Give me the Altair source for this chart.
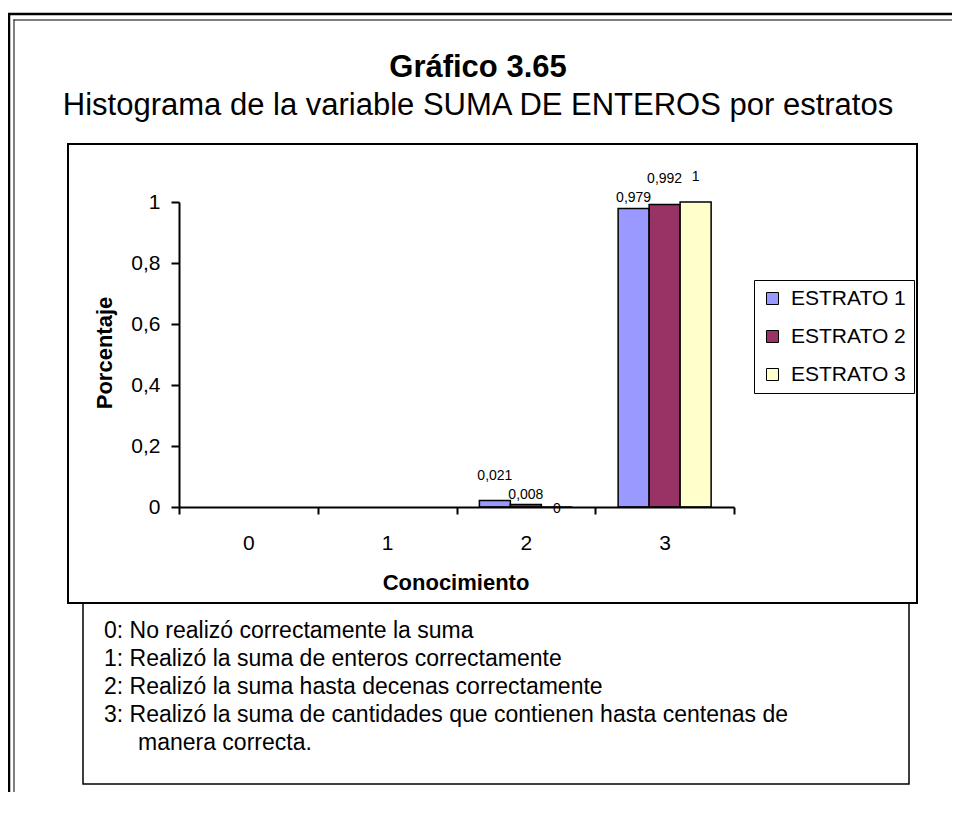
import altair as alt
import pandas as pd

# ---------------- data ----------------
categories = ["0", "1", "2", "3"]
strata = ["ESTRATO 1", "ESTRATO 2", "ESTRATO 3"]
bar_categories = ["2", "3"]
estrato_1 = [0.021, 0.979]
estrato_2 = [0.008, 0.992]
estrato_3 = [0.0, 1.0]
y_ticks = [0, 0.2, 0.4, 0.6, 0.8, 1]
colors = ["#9999FF", "#993366", "#FFFFCC"]

title_text = "Gráfico 3.65"
subtitle_text = "Histograma de la variable SUMA DE ENTEROS por estratos"
y_title = "Porcentaje"
x_title = "Conocimiento"
notes = [
    "0: No realizó correctamente la suma",
    "1: Realizó la suma de enteros correctamente",
    "2: Realizó la suma hasta decenas correctamente",
    "3: Realizó la suma de cantidades que contienen hasta centenas de",
]
notes_continuation = "manera correcta."

# label placement style (Excel staggered the value labels)
label_lift = {
    ("2", "ESTRATO 1"): "far",
    ("2", "ESTRATO 2"): "near",
    ("2", "ESTRATO 3"): "below",
    ("3", "ESTRATO 1"): "near",
    ("3", "ESTRATO 2"): "far",
    ("3", "ESTRATO 3"): "far",
}
lift_dy = {"near": -6, "far": -21, "below": 6}

rows = []
for s, vals in zip(strata, [estrato_1, estrato_2, estrato_3]):
    for c, v in zip(bar_categories, vals):
        rows.append({
            "cat": c, "estrato": s, "valor": v,
            "etiqueta": f"{v:g}".replace(".", ","),
            "lift": label_lift[(c, s)],
        })
df = pd.DataFrame(rows)
dummy = pd.DataFrame({"k": [0]})

FONT = "Liberation Sans"
RIGHT_EDGE = 773   # svg right edge in plot coordinates
BOTTOM_EDGE = 590  # svg bottom edge in plot coordinates

# ---------------- encodings ----------------
x_enc = alt.X(
    "cat:N",
    scale=alt.Scale(domain=categories, paddingInner=0, paddingOuter=0),
    axis=alt.Axis(
        title=None, labelAngle=0, tickBand="extent", tickSize=7, tickWidth=2,
        domainWidth=2, domainColor="black", tickColor="black", labelColor="black",
        labelFontSize=21, labelPadding=35, labelBaseline="alphabetic",
        labelFont=FONT, zindex=1,
    ),
)
y_enc = alt.Y(
    "valor:Q",
    scale=alt.Scale(domain=[0, 1], nice=False),
    axis=alt.Axis(
        title=None, values=y_ticks, grid=False, tickSize=8, tickWidth=2,
        domainWidth=2, domainColor="black", tickColor="black", labelColor="black",
        labelFontSize=21, labelPadding=11, labelFont=FONT, zindex=1,
        labelExpr="replace(format(datum.value, '.1~f'), '.', ',')",
    ),
)
xo_enc = alt.XOffset(
    "estrato:N",
    scale=alt.Scale(domain=strata, paddingInner=0, paddingOuter=0.738),
)
color_enc = alt.Color(
    "estrato:N",
    scale=alt.Scale(domain=strata, range=colors),
    legend=alt.Legend(
        title=None, orient="none", legendX=575, legendY=78,
        strokeColor="black", fillColor="white", padding=8,
        symbolType="square", symbolSize=144, symbolStrokeColor="black",
        symbolStrokeWidth=1, labelFontSize=21, labelFont=FONT,
        labelColor="black", rowPadding=16, labelOffset=8,
    ),
)

# ---------------- decorations ----------------
def hline(x1, x2, y, w):
    return alt.Chart(dummy).mark_rule(color="black", strokeWidth=w).encode(
        x=alt.value(x1), x2=alt.value(x2), y=alt.value(y)
    )

def vline(x, y1, y2, w):
    return alt.Chart(dummy).mark_rule(color="black", strokeWidth=w).encode(
        x=alt.value(x), y=alt.value(y1), y2=alt.value(y2)
    )

frame = [
    hline(-171.5, RIGHT_EDGE, -188, 2.5),
    vline(-170, -189, BOTTOM_EDGE, 2.5),
    hline(-165.5, RIGHT_EDGE, -182, 1),
    vline(-165, -182.5, BOTTOM_EDGE, 1),
]

notes_box = alt.Chart(dummy).mark_rect(
    fill="white", stroke="black", strokeWidth=1.5
).encode(x=alt.value(-96), x2=alt.value(730), y=alt.value(401), y2=alt.value(582))

chart_box = alt.Chart(dummy).mark_rect(
    fill="white", stroke="black", strokeWidth=2
).encode(x=alt.value(-111), x2=alt.value(738), y=alt.value(-58), y2=alt.value(401))

title = alt.Chart(dummy).mark_text(
    text=title_text, font=FONT, fontSize=31, fontWeight="bold",
    align="center", baseline="alphabetic", color="black",
).encode(x=alt.value(299), y=alt.value(-125.5))

subtitle = alt.Chart(dummy).mark_text(
    text=subtitle_text, font=FONT, fontSize=31,
    align="center", baseline="alphabetic", color="black",
).encode(x=alt.value(299), y=alt.value(-87))

ytitle = alt.Chart(dummy).mark_text(
    text=y_title, font=FONT, fontSize=22, fontWeight="bold", angle=270,
    align="center", baseline="middle", color="black",
).encode(x=alt.value(-74), y=alt.value(151))

xtitle = alt.Chart(dummy).mark_text(
    text=x_title, font=FONT, fontSize=22, fontWeight="bold",
    align="center", baseline="alphabetic", color="black",
).encode(x=alt.value(277), y=alt.value(388))

notes_text = alt.Chart(dummy).mark_text(
    text=notes, font=FONT, fontSize=23, lineHeight=28,
    align="left", baseline="alphabetic", color="black",
).encode(x=alt.value(-75), y=alt.value(436))

notes_cont = alt.Chart(dummy).mark_text(
    text=notes_continuation, font=FONT, fontSize=23,
    align="left", baseline="alphabetic", color="black",
).encode(x=alt.value(-41), y=alt.value(548))

# ---------------- data marks ----------------
bars = alt.Chart(df).mark_bar(stroke="black", strokeWidth=1.5).encode(
    x=x_enc, xOffset=xo_enc, y=y_enc, color=color_enc
)

label_layers = []
for lift, dy in lift_dy.items():
    label_layers.append(
        alt.Chart(df).transform_filter(alt.datum.lift == lift).mark_text(
            font=FONT, fontSize=14, dy=dy, align="center",
            baseline="alphabetic", color="black",
        ).encode(x=x_enc, xOffset=xo_enc, y=y_enc, text="etiqueta:N")
    )

chart = alt.layer(
    *frame, notes_box, chart_box,
    title, subtitle, ytitle, xtitle, notes_text, notes_cont,
    bars, *label_layers,
).properties(
    width=555, height=305,
    padding={"left": 171, "top": 194, "right": 218, "bottom": 289},
    autosize="none",
).configure(font=FONT).configure_view(stroke=None)

chart.save("out.html", embed_options={"renderer": "svg", "actions": False})
